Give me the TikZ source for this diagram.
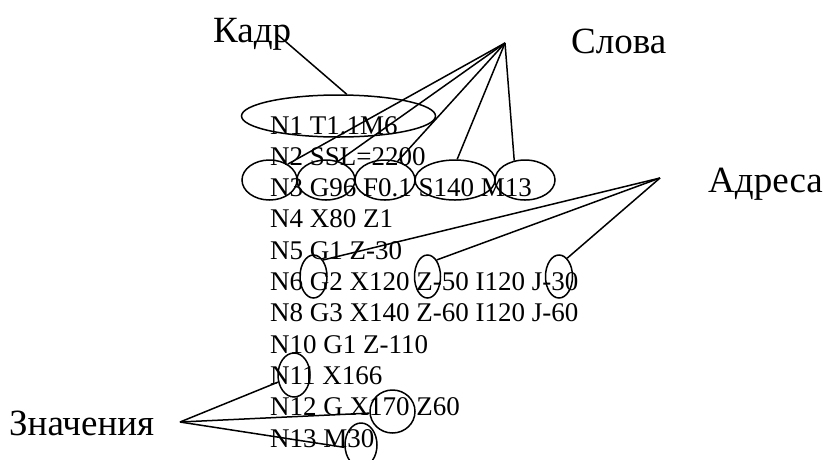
\documentclass[tikz,border=0pt]{standalone}
\usepackage{fontspec}
\setmainfont{Liberation Serif}
\usetikzlibrary{shapes.geometric}
\begin{document}
\begin{tikzpicture}[x=1pt,y=-1pt,
  prog/.style={anchor=base west,inner sep=0pt,font=\fontsize{27}{27}\selectfont},
  caption/.style={anchor=base west,inner sep=0pt,font=\fontsize{37}{37}\selectfont},
  ring/.style={draw,ellipse,inner sep=0pt,line width=1.5pt},
  wire/.style={line width=1.5pt}]
\useasboundingbox (0,0) rectangle (826,459);

% program listing
\node[prog] (l1)  at (270,134)   {N1 T1.1M6};
\node[prog] (l2)  at (270,165.3) {N2 SSL=2200};
\node[prog] (l3)  at (270,196.6) {N3 G96 F0.1 S140 M13};
\node[prog] (l4)  at (270,227.9) {N4 X80 Z1};
\node[prog] (l5)  at (270,259.2) {N5 G1 Z-30};
\node[prog] (l6)  at (270,290.5) {N6 G2 X120 Z-50 I120 J-30};
\node[prog] (l7)  at (270,321.8) {N8 G3 X140 Z-60 I120 J-60};
\node[prog] (l8)  at (270,353.1) {N10 G1 Z-110};
\node[prog] (l9)  at (270,384.4) {N11 X166};
\node[prog] (l10) at (270,415.7) {N12 G X170 Z60};
\node[prog] (l11) at (270,447)   {N13 M30};

% captions
\node[caption] (kadr)  at (213,42)  {Кадр};
\node[caption] (slova) at (571,53)  {Слова};
\node[caption] (adr)   at (708,192) {Адреса};
\node[caption] (znach) at (9,435)   {Значения};

% rings: block
\node[ring,minimum width=194pt,minimum height=42pt] (eblock) at (338.5,116) {};
% rings: words
\node[ring,minimum width=55pt,minimum height=40pt] (ew1) at (269.5,180) {};
\node[ring,minimum width=58pt,minimum height=40pt] (ew2) at (326,180) {};
\node[ring,minimum width=60pt,minimum height=40pt] (ew3) at (385,180) {};
\node[ring,minimum width=80pt,minimum height=40pt] (ew4) at (455,180) {};
\node[ring,minimum width=60pt,minimum height=40pt] (ew5) at (525,180) {};
% rings: addresses
\node[ring,minimum width=27pt,minimum height=43pt] (ea1) at (313.5,276.5) {};
\node[ring,minimum width=26pt,minimum height=43pt] (ea2) at (427.5,276.5) {};
\node[ring,minimum width=27pt,minimum height=43pt] (ea3) at (559,276.5) {};
% rings: values
\node[ring,minimum width=32pt,minimum height=44pt] (ev1) at (294,375) {};
\node[ring,minimum width=45pt,minimum height=43pt] (ev2) at (392.5,411.5) {};
\node[ring,minimum width=32pt,minimum height=44pt] (ev3) at (361,445) {};

% fan origins
\coordinate (kadrp)  at (278,35);
\coordinate (slovap) at (505,43);
\coordinate (adrp)   at (660,178);
\coordinate (znachp) at (180,422);

% connectors
\draw[wire] (kadrp) -- (eblock.69);
\draw[wire] (slovap) -- (ew1.41);
\draw[wire] (slovap) -- (ew2.57);
\draw[wire] (slovap) -- (ew3.56);
\draw[wire] (slovap) -- (ew4.84);
\draw[wire] (slovap) -- (ew5.119);
\draw[wire] (adrp) -- (ea1.60);
\draw[wire] (adrp) -- (ea2.61);
\draw[wire] (adrp) -- (ea3.66);
\draw[wire] (znachp) -- (ev1.204);
\draw[wire] (znachp) -- (ev2.184);
\draw[wire] (znachp) -- (ev3.188);
\end{tikzpicture}
\end{document}
